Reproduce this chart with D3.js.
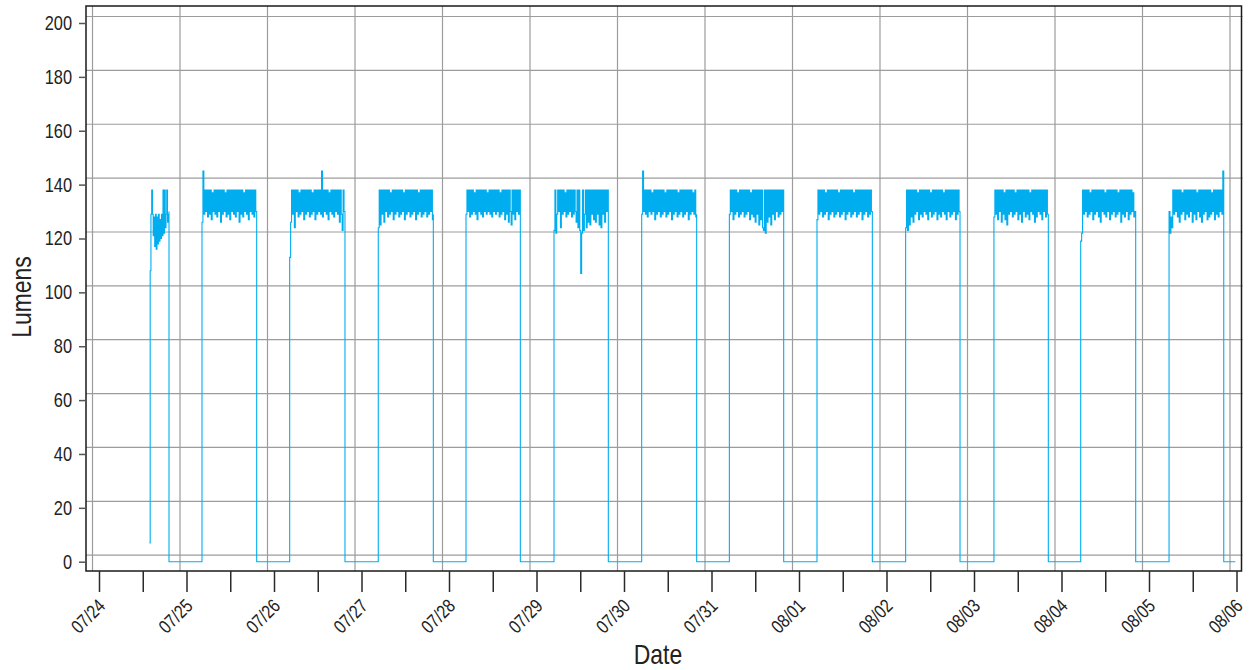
<!DOCTYPE html>
<html>
<head>
<meta charset="utf-8">
<script src="https://cdn.jsdelivr.net/npm/d3@7"></script>
<style>
  body { margin: 0; background: #fff; }
  text { font-family: "Liberation Sans", Arial, sans-serif; fill: #222; }
</style>
</head>
<body>
<figure id="chart" style="margin:0"></figure>
<script>
// lights on / off times for each day
const lightsOn = ["07/24 13:50", "07/25 04:15", "07/26 04:18", "07/27 04:36", "07/28 04:40", "07/29 04:48",
  "07/30 04:51", "07/31 04:54", "08/01 04:56", "08/02 05:15", "08/03 05:28", "08/04 05:16", "08/05 05:30"];
const lightsOff = ["07/24 19:12", "07/25 19:15", "07/26 19:28", "07/27 19:42", "07/28 19:34", "07/29 19:42",
  "07/30 19:56", "07/31 19:48", "08/01 20:07", "08/02 20:10", "08/03 20:23", "08/04 20:21", "08/05 20:30"];
const dataEnd = "08/05 23:40";

// readings (lumens) while the lights are on, one array per day
const r0724 = [7, 108, 129, 138, 129, 121, 128, 117, 129, 116, 128, 118, 129, 119, 127, 120, 129, 121, 138, 122, 138, 124, 129, 138, 126, 129, 130];
const r0725 = [126, 145, 129, 138, 130, 138, 128, 138, 129, 138, 127, 137, 130, 138, 129, 138, 128, 138, 130, 138, 126, 138, 129, 138, 130, 137, 128, 138, 129, 138, 127, 138, 130, 138, 129, 138, 128, 138, 130, 138, 126, 138, 129, 138, 128, 137, 130, 138, 129, 138, 127, 138, 130, 138, 129, 138, 128, 138, 130, 129];
const r0726 = [113, 126, 138, 129, 138, 124, 138, 130, 138, 128, 137, 129, 138, 130, 138, 127, 138, 129, 138, 130, 138, 128, 138, 129, 137, 130, 138, 127, 138, 129, 138, 130, 138, 129, 145, 128, 138, 130, 138, 129, 138, 127, 137, 130, 138, 129, 138, 128, 138, 130, 138, 129, 138, 126, 138, 129, 123, 138, 130, 129];
const r0727 = [124, 138, 125, 138, 129, 138, 126, 138, 130, 138, 128, 138, 129, 137, 130, 138, 127, 138, 129, 138, 130, 138, 128, 138, 129, 138, 130, 137, 127, 138, 129, 138, 130, 138, 128, 138, 129, 138, 130, 138, 127, 138, 129, 137, 130, 138, 128, 138, 129, 138, 130, 138, 128, 138, 129, 138, 130, 138, 127, 129];
const r0728 = [129, 138, 130, 138, 128, 138, 129, 138, 130, 137, 129, 138, 127, 138, 130, 138, 129, 138, 128, 138, 130, 138, 129, 137, 130, 138, 129, 138, 128, 138, 130, 138, 129, 138, 130, 138, 128, 137, 129, 138, 130, 138, 127, 138, 129, 138, 126, 138, 130, 125, 138, 129, 138, 127, 138, 130, 138, 129, 138, 129];
const r0729 = [123, 138, 122, 129, 138, 130, 138, 124, 138, 129, 138, 130, 137, 128, 138, 129, 138, 130, 138, 128, 138, 129, 138, 130, 126, 138, 124, 138, 123, 107, 122, 138, 123, 129, 138, 124, 138, 126, 138, 125, 138, 129, 138, 127, 138, 126, 138, 129, 138, 125, 138, 124, 138, 129, 138, 126, 138, 130, 138, 129];
const r0730 = [129, 145, 130, 138, 129, 138, 128, 138, 130, 138, 129, 137, 130, 138, 127, 138, 129, 138, 130, 138, 128, 138, 129, 138, 130, 137, 128, 138, 129, 138, 130, 138, 127, 138, 129, 138, 130, 138, 128, 137, 129, 138, 130, 138, 128, 138, 129, 138, 130, 138, 127, 138, 129, 138, 130, 137, 129, 138, 128, 129];
const r0731 = [129, 138, 130, 138, 127, 138, 129, 138, 130, 137, 128, 138, 129, 138, 130, 138, 128, 138, 129, 138, 130, 138, 127, 137, 129, 138, 128, 138, 126, 138, 129, 138, 125, 138, 127, 138, 124, 123, 138, 122, 138, 126, 138, 128, 138, 125, 138, 129, 138, 127, 138, 130, 138, 128, 138, 129, 138, 130, 138, 129];
const r0801 = [127, 138, 129, 138, 130, 138, 128, 138, 129, 137, 130, 138, 127, 138, 129, 138, 130, 138, 128, 138, 129, 138, 130, 137, 128, 138, 129, 138, 130, 138, 127, 138, 129, 138, 130, 138, 128, 138, 129, 137, 130, 138, 128, 138, 129, 138, 130, 138, 127, 138, 129, 138, 130, 138, 128, 138, 129, 138, 130, 129];
const r0802 = [124, 138, 123, 138, 125, 138, 128, 138, 126, 138, 129, 138, 130, 137, 127, 138, 129, 138, 128, 138, 130, 138, 129, 138, 127, 138, 130, 137, 128, 138, 129, 138, 130, 138, 127, 138, 129, 138, 128, 138, 130, 137, 129, 138, 127, 138, 130, 138, 128, 138, 129, 138, 130, 138, 127, 138, 129, 138, 130, 129];
const r0803 = [128, 138, 129, 138, 127, 138, 130, 138, 126, 138, 129, 137, 127, 138, 125, 138, 129, 138, 130, 138, 128, 138, 129, 137, 130, 138, 127, 138, 129, 138, 126, 138, 130, 138, 128, 138, 129, 138, 127, 137, 130, 138, 129, 138, 126, 138, 128, 138, 130, 138, 129, 138, 127, 138, 130, 138, 128, 138, 129, 129];
const r0804 = [119, 122, 138, 129, 138, 130, 138, 128, 138, 129, 137, 130, 138, 127, 138, 129, 138, 130, 138, 128, 138, 126, 138, 130, 138, 129, 137, 128, 138, 130, 138, 127, 138, 129, 138, 130, 138, 128, 138, 129, 137, 130, 138, 126, 138, 129, 138, 128, 138, 130, 138, 127, 138, 129, 138, 130, 137, 128, 130, 129];
const r0805 = [130, 122, 128, 124, 138, 129, 138, 130, 138, 128, 138, 126, 138, 129, 137, 130, 138, 127, 138, 129, 138, 128, 138, 130, 138, 126, 138, 129, 138, 127, 137, 130, 138, 128, 138, 126, 138, 129, 138, 130, 138, 127, 138, 128, 138, 129, 137, 130, 138, 127, 138, 129, 138, 128, 138, 130, 138, 129, 145, 130];
const dailyReadings = [r0724, r0725, r0726, r0727, r0728, r0729, r0730, r0731, r0801, r0802, r0803, r0804, r0805];

// axis
const xStart = "07/24 00:00";
const xEnd = "08/06 00:00";
const yTicks = [0, 20, 40, 60, 80, 100, 120, 140, 160, 180, 200];

const parse = d3.timeParse("%Y/%m/%d %H:%M");
const toDate = s => parse("2023/" + s);

// build the series
const data = [];
dailyReadings.forEach((vals, i) => {
  const on = toDate(lightsOn[i]);
  const off = toDate(lightsOff[i]);
  const step = (off - on) / (vals.length - 1);
  if (i > 0) data.push({ t: on, v: 0 });
  vals.forEach((v, j) => data.push({ t: new Date(+on + j * step), v: v }));
  data.push({ t: off, v: 0 });
});
data.push({ t: toDate(dataEnd), v: 0 });

const width = 1252, height = 670;
const frame = { left: 86, top: 6, right: 1241.5, bottom: 571 };
const gridShift = 6.5;
const narrow = 0.82; // squeeze the font horizontally, the original uses a condensed face

const svg = d3.select("figure#chart")
  .append("svg")
  .attr("width", width)
  .attr("height", height);

const x = d3.scaleTime()
  .domain([toDate(xStart), toDate(xEnd)])
  .range([99, 1236.5]);

const y = d3.scaleLinear()
  .domain([0, 200])
  .range([561.7, 23]);

const days = d3.timeDay.range(toDate(xStart), d3.timeDay.offset(toDate(xEnd), 1));

// grid (drawn a little up/left of the ticks, as in the original)
svg.append("g")
  .selectAll("line")
  .data(days)
  .enter()
  .append("line")
    .attr("x1", d => x(d) - gridShift)
    .attr("x2", d => x(d) - gridShift)
    .attr("y1", frame.top)
    .attr("y2", frame.bottom)
    .attr("stroke", "#9c9c9c")
    .attr("stroke-width", 1.2);

svg.append("g")
  .selectAll("line")
  .data(yTicks)
  .enter()
  .append("line")
    .attr("x1", frame.left)
    .attr("x2", frame.right + 1)
    .attr("y1", d => y(d) - gridShift)
    .attr("y2", d => y(d) - gridShift)
    .attr("stroke", "#9c9c9c")
    .attr("stroke-width", 1.2);

// the line (sample and hold)
svg.append("path")
  .datum(data)
  .attr("fill", "none")
  .attr("stroke", "#00aeef")
  .attr("stroke-width", 1.1)
  .attr("d", d3.line().curve(d3.curveStepAfter).x(d => x(d.t)).y(d => y(d.v)));

// frame
svg.append("rect")
  .attr("x", frame.left)
  .attr("y", frame.top)
  .attr("width", frame.right - frame.left)
  .attr("height", frame.bottom - frame.top)
  .attr("fill", "none")
  .attr("stroke", "#1a1a1a")
  .attr("stroke-width", 1.5);

// x axis
const fmtDay = d3.timeFormat("%m/%d");
const xAxis = svg.append("g")
  .attr("transform", "translate(0," + frame.bottom + ")")
  .call(d3.axisBottom(x)
    .ticks(d3.timeHour.every(12))
    .tickSize(21)
    .tickFormat(d => d.getHours() === 0 ? fmtDay(d) : ""));
xAxis.select(".domain").remove();
xAxis.selectAll(".tick line").attr("stroke", "#2a2a2a").attr("stroke-width", 1.5);
xAxis.selectAll(".tick text")
  .attr("x", 0).attr("y", 0).attr("dy", 0)
  .attr("text-anchor", "end")
  .attr("transform", "translate(7,36) rotate(-45) scale(" + narrow + ",1)")
  .style("font-size", "19px");

// y axis
const yAxis = svg.append("g")
  .attr("transform", "translate(" + frame.left + ",0)")
  .call(d3.axisLeft(y).tickValues(yTicks).tickSize(7).tickPadding(7));
yAxis.select(".domain").remove();
yAxis.selectAll(".tick line").attr("stroke", "#555").attr("stroke-width", 1.5);
yAxis.selectAll(".tick text")
  .attr("x", -14 / narrow)
  .attr("transform", "scale(" + narrow + ",1)")
  .style("font-size", "20px");

// axis titles
svg.append("text")
  .attr("text-anchor", "middle")
  .attr("transform", "translate(658,664) scale(" + narrow + ",1)")
  .style("font-size", "28px")
  .text("Date");

svg.append("text")
  .attr("text-anchor", "middle")
  .attr("transform", "translate(31,297) rotate(-90) scale(" + narrow + ",1)")
  .style("font-size", "28px")
  .text("Lumens");
</script>
</body>
</html>
